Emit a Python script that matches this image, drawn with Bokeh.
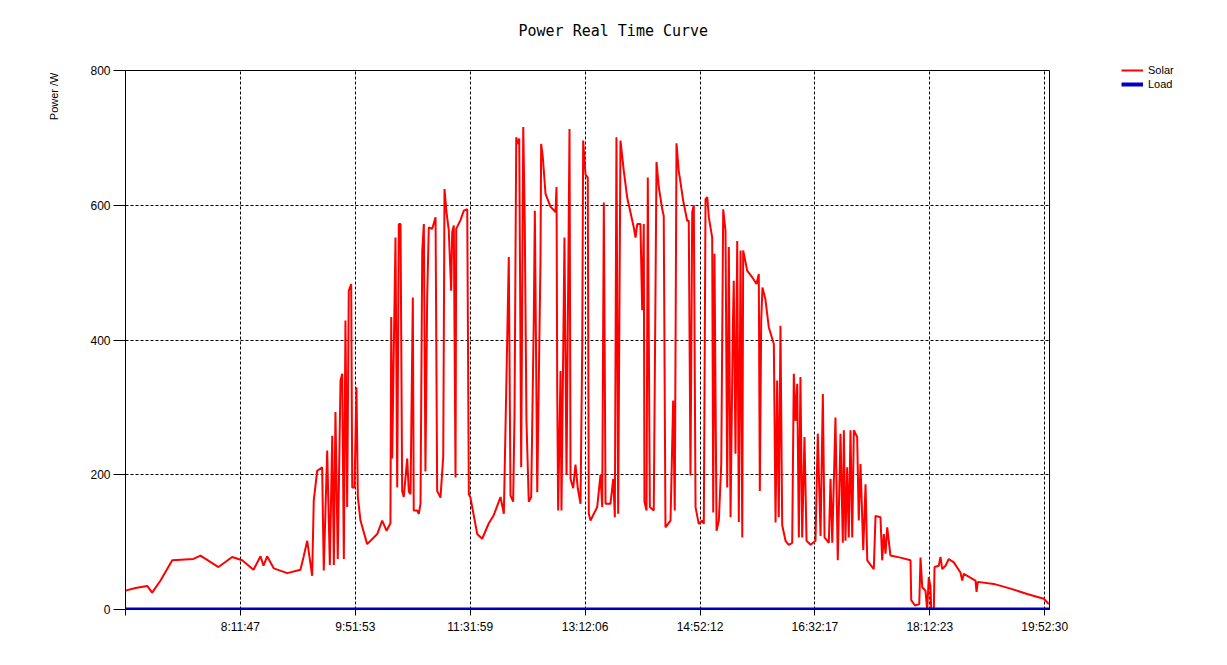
import math
from bokeh.plotting import figure
from bokeh.models import FixedTicker, Legend, LegendItem, Range1d, ColumnDataSource, Title
from bokeh.embed import file_html
from bokeh.resources import INLINE

# ---- data (time in minutes after midnight, power in W) ----
solar_minutes = [
    391.7, 400.4, 410.6, 414.9, 422.2, 432.4, 450.9, 457.0, 472.7, 484.6,
    493.3, 503.2, 509.3, 511.9, 515.1, 520.9, 532.6, 544.1, 546.8, 550.0,
    554.3, 555.7, 558.7, 563.0, 564.4, 567.4, 569.7, 571.8, 573.2, 574.6,
    576.6, 579.0, 580.5, 581.9, 583.3, 584.8, 586.2, 588.3, 589.2, 591.2,
    592.9, 594.1, 596.4, 602.2, 611.0, 615.3, 619.1, 622.5, 623.2, 624.0,
    626.9, 628.4, 629.8, 631.3, 632.7, 634.1, 637.1, 638.5, 640.0, 642.0,
    642.8, 645.8, 647.2, 648.7, 650.2, 651.6, 653.0, 654.5, 655.9, 658.9,
    661.8, 663.2, 666.1, 668.5, 669.6, 671.3, 673.3, 675.4, 676.3, 677.7,
    679.2, 679.8, 683.5, 686.4, 689.4, 690.8, 692.2, 698.1, 702.4, 708.2,
    712.5, 718.4, 721.3, 725.6, 727.1, 729.4, 730.6, 732.1, 733.4, 734.7,
    736.4, 738.2, 739.5, 741.0, 743.0, 745.1, 747.4, 748.3, 750.4, 753.2,
    753.8, 755.2, 757.6, 761.9, 766.3, 767.2, 767.8, 768.6, 770.7, 771.5,
    774.1, 775.9, 777.0, 778.5, 779.4, 781.7, 783.7, 785.7, 788.1, 789.6,
    790.4, 792.4, 794.4, 795.3, 796.8, 802.6, 805.5, 807.0, 808.4, 809.9,
    814.2, 816.6, 818.0, 819.4, 820.9, 822.9, 825.8, 828.8, 834.5, 836.0,
    837.5, 840.3, 841.8, 843.2, 843.8, 845.6, 846.7, 848.5, 851.9, 854.3,
    856.3, 859.3, 860.6, 862.1, 866.5, 868.8, 870.2, 871.7, 873.7, 874.6,
    877.5, 881.0, 882.4, 883.9, 885.4, 886.8, 888.3, 891.1, 894.1, 895.5,
    897.0, 898.5, 899.9, 902.8, 903.7, 904.8, 906.6, 908.6, 910.7, 912.4,
    914.4, 915.9, 917.3, 918.8, 920.8, 921.6, 923.1, 924.6, 926.0, 927.5,
    929.0, 929.8, 933.3, 937.7, 941.4, 943.4, 944.3, 945.5, 946.6, 949.2,
    952.1, 956.5, 958.0, 959.4, 960.8, 962.3, 963.8, 966.7, 969.5, 972.5,
    973.9, 975.4, 976.9, 978.3, 979.7, 981.2, 983.2, 985.0, 988.5, 992.8,
    994.8, 997.2, 999.2, 1000.7, 1004.4, 1005.9, 1007.4, 1010.2, 1012.2, 1014.6,
    1016.6, 1017.5, 1018.9, 1020.4, 1021.8, 1023.3, 1024.8, 1026.2, 1029.1, 1030.5,
    1032.0, 1034.4, 1036.4, 1037.9, 1042.2, 1043.6, 1045.1, 1049.4, 1050.9, 1052.3,
    1053.8, 1055.3, 1058.1, 1066.9, 1075.6, 1076.2, 1079.5, 1083.2, 1084.3, 1085.8,
    1088.6, 1090.1, 1091.5, 1093.0, 1093.6, 1095.9, 1096.5, 1100.2, 1101.7, 1103.2,
    1106.1, 1108.9, 1113.3, 1119.1, 1120.6, 1122.0, 1132.2, 1133.1, 1134.2, 1148.1,
    1162.7, 1177.2, 1191.7, 1196.1,
]
solar_power = [
    28, 32, 35, 25, 43, 73, 75, 80, 63, 78,
    73, 59, 79, 65, 79, 61, 54, 59, 78, 102,
    50, 162, 206, 211, 58, 236, 66, 258, 66, 293,
    75, 340, 350, 75, 429, 152, 473, 483, 181, 181,
    330, 167, 132, 97, 112, 132, 117, 128, 434, 224,
    552, 181, 572, 572, 176, 167, 224, 175, 171, 463,
    147, 147, 142, 157, 533, 572, 205, 463, 567, 565,
    582, 176, 166, 227, 624, 590, 563, 473, 560, 570,
    196, 565, 578, 592, 594, 171, 166, 112, 105, 128,
    140, 167, 142, 523, 169, 160, 290, 701, 691, 699,
    211, 716, 577, 280, 160, 167, 434, 592, 174, 516,
    691, 672, 617, 598, 590, 627, 325, 147, 354, 147,
    552, 200, 414, 713, 194, 180, 215, 180, 157, 394,
    696, 646, 641, 142, 132, 152, 200, 152, 604, 157,
    157, 194, 137, 701, 142, 696, 651, 611, 567, 552,
    572, 572, 444, 572, 160, 147, 641, 152, 147, 664,
    627, 594, 584, 122, 132, 310, 147, 692, 650, 641,
    607, 577, 577, 199, 590, 600, 152, 127, 132, 127,
    609, 612, 582, 552, 144, 528, 117, 132, 216, 594,
    562, 181, 538, 137, 419, 488, 231, 547, 130, 533,
    107, 533, 503, 493, 483, 498, 176, 429, 478, 460,
    419, 394, 129, 340, 137, 421, 125, 102, 96, 99,
    350, 280, 335, 107, 345, 107, 256, 102, 96, 102,
    261, 109, 320, 107, 99, 194, 99, 285, 73, 261,
    99, 266, 102, 211, 107, 266, 107, 266, 256, 132,
    216, 88, 186, 73, 63, 60, 139, 137, 73, 112,
    83, 122, 80, 77, 73, 14, 6, 8, 77, 33,
    28, 0, 48, 33, 0, 0, 63, 65, 78, 60,
    65, 75, 70, 55, 43, 53, 43, 26, 41, 38,
    31, 23, 16, 8,
]
load_minutes = [391.7, 500.0, 600.0, 700.0, 800.0, 900.0, 1000.0, 1100.0, 1196.7]
load_power = [0, 0, 0, 0, 0, 0, 0, 0, 0]

tick_labels = ["8:11:47", "9:51:53", "11:31:59", "13:12:06",
               "14:52:12", "16:32:17", "18:12:23", "19:52:30"]
axis_start = "6:31:41"
axis_end = "19:56:40"
y_ticks = [0, 200, 400, 600, 800]
series_names = ["Solar", "Load"]
series_colors = ["#ff0000", "#0000c8"]
title_text = "Power Real Time Curve"
y_label = "Power /W"


def hms(s):
    h, m, sec = (int(v) for v in s.split(":"))
    return h * 3600 + m * 60 + sec


x0 = hms(axis_start)
x1 = hms(axis_end)
tick_secs = [hms(t) for t in tick_labels]

p = figure(frame_width=924, frame_height=539,
           min_border_left=125, min_border_top=70,
           min_border_right=170, min_border_bottom=50,
           x_range=Range1d(x0, x1), y_range=Range1d(0, 800),
           output_backend="svg", toolbar_location=None)
p.background_fill_color = "white"
p.border_fill_color = "white"
p.outline_line_color = "black"
p.outline_line_width = 1
p.title.text = ""

# spacer between the frame and the title, then the title itself
p.add_layout(Title(text=" ", text_font_size="2px", standoff=22), "above")
p.add_layout(Title(text=title_text, align="left", offset=393, standoff=10,
                   text_font="DejaVu Sans Mono", text_font_size="15px",
                   text_font_style="normal", text_color="black"), "above")

solar_src = ColumnDataSource(dict(x=[m * 60 for m in solar_minutes], y=solar_power))
load_src = ColumnDataSource(dict(x=[m * 60 for m in load_minutes], y=load_power))
r_solar = p.line("x", "y", source=solar_src, line_color=series_colors[0], line_width=2)
r_load = p.line("x", "y", source=load_src, line_color=series_colors[1], line_width=4)

# axes
xt = FixedTicker(ticks=[x0] + tick_secs)
p.xaxis.ticker = xt
overrides = {x0: ""}
for s, lab in zip(tick_secs, tick_labels):
    overrides[s] = lab
p.xaxis.major_label_overrides = overrides
p.yaxis.ticker = FixedTicker(ticks=y_ticks)
for ax in (p.xaxis, p.yaxis):
    ax.axis_line_color = "black"
    ax.major_tick_line_color = "black"
    ax.minor_tick_line_color = None
    ax.major_tick_in = 0
    ax.major_label_text_font = "Liberation Sans"
    ax.major_label_text_font_size = "12px"
    ax.major_label_text_color = "black"
p.xaxis.major_tick_out = 6
p.xaxis.major_label_standoff = 4
p.yaxis.major_tick_out = 12
p.yaxis.major_label_standoff = 3

# y label placed at the top of the left side
p.add_layout(Title(text=y_label, align="right", offset=2, standoff=55,
                   text_font="Liberation Sans", text_font_size="11px",
                   text_font_style="normal", text_color="black"), "left")

# grids
p.xgrid.ticker = xt
p.ygrid.ticker = FixedTicker(ticks=y_ticks)
for g in (p.xgrid, p.ygrid):
    g.grid_line_color = "black"
    g.grid_line_dash = "3 2"
    g.grid_line_width = 1

legend = Legend(items=[LegendItem(label=series_names[0], renderers=[r_solar]),
                       LegendItem(label=series_names[1], renderers=[r_load])],
                location=(72, 518), padding=0, margin=0, spacing=0,
                glyph_width=22, glyph_height=14, label_height=14,
                label_standoff=5, label_text_font="Liberation Sans",
                label_text_font_size="11px", label_text_color="black",
                border_line_color=None, background_fill_alpha=0)
p.add_layout(legend, "right")

open("out.html", "w").write(file_html(p, INLINE))
